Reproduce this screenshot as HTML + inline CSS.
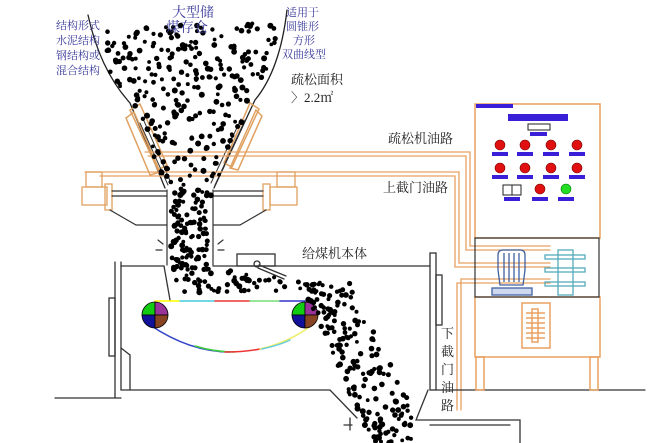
<!DOCTYPE html>
<html><head><meta charset="utf-8"><style>
html,body{margin:0;padding:0;background:#fff;width:660px;height:443px;overflow:hidden}
svg{display:block}
.t{font-family:"Liberation Serif","Noto Serif CJK SC",serif}
</style></head><body>
<svg id="s" width="660" height="443" viewBox="0 0 660 443" xmlns="http://www.w3.org/2000/svg">
<g fill="none" stroke-linecap="round">
<path d="M88,15 Q100,70 130,103 L165,188" stroke="#222" stroke-width="1.3"/>
<path d="M287,10 Q280,70 255,100 L214,188" stroke="#222" stroke-width="1.3"/>
<g stroke="#e0a060" stroke-width="1.5">
<path d="M130,110 L140,104 L167,165 L158,170 Z"/>
<path d="M126,118 L134,112 L160,172 L150,175 Z"/>
<path d="M250,103 L259,109 L232,167 L224,163 Z"/>
<path d="M256,110 L262,116 L238,170 L230,168 Z"/>
</g>
<g stroke="#333" stroke-width="1">
<path d="M140,123 L168,185 M144,121 L171,183"/>
<path d="M245,120 L215,185 M241,119 L211,183"/>
</g>
<g stroke="#e8a060" stroke-width="1.3">
<path d="M145,152 L470,152 L470,246 L550,246"/>
<path d="M148,156 L466,156 L466,250 L550,250"/>
<path d="M85,172 L459,172 L459,263 L550,263"/>
<path d="M100,176 L455,176 L455,267 L550,267"/>
<path d="M550,279 L461,279 L461,410"/>
<path d="M550,283 L457,283 L457,410"/>
</g>
<g stroke="#e0a060" stroke-width="1.3">
<rect x="86" y="172" width="16" height="15"/>
<rect x="82" y="187" width="25" height="18"/>
<rect x="105" y="184" width="7" height="26"/>
<rect x="277" y="172" width="18" height="15"/>
<rect x="270" y="187" width="27" height="18"/>
<rect x="263" y="184" width="7" height="26"/>
</g>
<g stroke="#333" stroke-width="1.2">
<path d="M112,191 L167,191 M112,196 L167,196"/>
<path d="M213,191 L263,191 M213,196 L263,196"/>
<path d="M110,210 L136,225 L167,225"/>
<path d="M266,210 L240,225 L213,225"/>
<path d="M167,190 L167,265 M213,190 L213,265"/>
<path d="M158,240 L163,244 M156,250 L162,250 M218,244 L223,240 M218,250 L224,250"/>
</g>
<g stroke="#333" stroke-width="1.3">
<path d="M213,266 L430,266"/>
<path d="M121,266 L164,266"/>
<path d="M164,266 L170,300"/>
<path d="M115,262 L115,398 M121,262 L121,390"/>
<rect x="109" y="298" width="6" height="58"/>
<path d="M121,348 L130,355 L130,390"/>
<path d="M121,390 L330,390 L357,418"/>
<path d="M55,398 L121,398"/>
<rect x="430" y="253" width="6" height="137"/>
<rect x="436" y="275" width="6" height="50"/>
<path d="M436,390 L645,390 M428,390 L416,420 L520,420 L520,443 M430,425 L510,425"/>
<path d="M350,418 L350,430 M344,425 L352,425"/>
<rect x="237" y="254" width="38" height="12"/>
<circle cx="257" cy="264" r="3"/>
<path d="M259,265 L286,276 M258,268 L284,279"/>
</g>
<path d="M155,301 L180,301" stroke="#ff0" stroke-width="1.5"/>
<path d="M180,301 L215,301" stroke="#4cd" stroke-width="1.5"/>
<path d="M215,301 L250,301" stroke="#e33" stroke-width="1.5"/>
<path d="M250,301 L280,301" stroke="#7d7" stroke-width="1.5"/>
<path d="M280,301 L305,301" stroke="#33c" stroke-width="1.5"/>
<path d="M150,325 Q190,352 230,352" stroke="#34c" stroke-width="1.5"/>
<path d="M195,346 Q215,352 235,352" stroke="#4c4" stroke-width="1.5"/>
<path d="M225,352 Q245,352 260,349" stroke="#e33" stroke-width="1.5"/>
<path d="M260,349 Q290,342 312,325" stroke="#ee6" stroke-width="1.5"/>
<path d="M262,349 Q280,345 290,340" stroke="#6cd" stroke-width="1.5"/>
</g>
<g stroke="#000" stroke-width="0.8">
<path d="M155,315 L155,302 A13,13 0 0 0 142,315 Z" fill="#1c1"/>
<path d="M155,315 L155,302 A13,13 0 0 1 168,315 Z" fill="#939"/>
<path d="M155,315 L142,315 A13,13 0 0 0 155,328 Z" fill="#119"/>
<path d="M155,315 L168,315 A13,13 0 0 1 155,328 Z" fill="#842"/>
<path d="M305,315 L305,302 A13,13 0 0 0 292,315 Z" fill="#1c1"/>
<path d="M305,315 L305,302 A13,13 0 0 1 318,315 Z" fill="#939"/>
<path d="M305,315 L292,315 A13,13 0 0 0 305,328 Z" fill="#119"/>
<path d="M305,315 L318,315 A13,13 0 0 1 305,328 Z" fill="#842"/>
</g>
<g fill="none" stroke="#e8a060" stroke-width="1.5">
<rect x="475" y="104" width="125" height="134"/>
<rect x="475" y="297" width="125" height="60"/>
<rect x="476" y="357" width="8" height="33"/>
<rect x="590" y="357" width="8" height="33"/>
<rect x="522" y="303" width="28" height="45"/>
<rect x="532" y="309" width="6" height="33"/>
<path d="M526,313 L545,313 M526,318 L545,318 M526,323 L545,323 M526,328 L545,328 M526,333 L545,333 M526,338 L545,338"/>
</g>
<rect x="475" y="238" width="124" height="59" fill="none" stroke="#333" stroke-width="1.2"/>
<g fill="#3a1fd8">
<rect x="476" y="104" width="37" height="4"/>
<rect x="508" y="114" width="60" height="7"/>
<rect x="530" y="132" width="17" height="4"/>
<rect x="492" y="152" width="16" height="4"/><rect x="517" y="152" width="16" height="4"/><rect x="543" y="152" width="16" height="4"/><rect x="569" y="152" width="16" height="4"/>
<rect x="492" y="175" width="16" height="4"/><rect x="517" y="175" width="16" height="4"/><rect x="543" y="175" width="16" height="4"/><rect x="569" y="175" width="16" height="4"/>
<rect x="504" y="197" width="16" height="4"/><rect x="532" y="197" width="16" height="4"/><rect x="558" y="197" width="16" height="4"/>
</g>
<rect x="528" y="124" width="22" height="6" fill="#fff" stroke="#222"/>
<rect x="503" y="185" width="18" height="10" fill="#fff" stroke="#222"/>
<path d="M512,185 L512,195" stroke="#222"/>
<g fill="#e01010" stroke="#700" stroke-width="0.6">
<circle cx="500" cy="145" r="5"/><circle cx="525" cy="145" r="5"/><circle cx="551" cy="145" r="5"/><circle cx="577" cy="145" r="5"/>
<circle cx="500" cy="168" r="5"/><circle cx="525" cy="168" r="5"/><circle cx="551" cy="168" r="5"/><circle cx="577" cy="168" r="5"/>
<circle cx="540" cy="189" r="5"/>
</g>
<circle cx="566" cy="189" r="5" fill="#2d2" stroke="#070" stroke-width="0.6"/>
<g fill="none" stroke="#4060a0" stroke-width="1.3">
<path d="M500,285 L498,270 L498,255 Q498,250 503,250 L520,250 Q525,250 525,255 L525,270 L523,285 Z"/>
<path d="M504,253 L504,282 M509,253 L509,282 M514,253 L514,282 M519,253 L519,282"/>
<rect x="492" y="288" width="40" height="7" fill="#cfd8ee"/>
</g>
<g fill="none" stroke="#5ab" stroke-width="1.3">
<rect x="558" y="250" width="15" height="45"/>
<rect x="545" y="255" width="40" height="4"/>
<rect x="545" y="268" width="40" height="4"/>
<rect x="545" y="282" width="40" height="4"/>
</g>
<g id="dots" fill="#000"></g>
<g class="t" fill="#3a3a9a" font-size="14">
<text x="172" y="17">大型储</text><text x="166" y="32">煤存仓</text>
</g>
<g class="t" fill="#3a3a9a" font-size="11">
<text x="56" y="29">结构形式</text><text x="56" y="44">水泥结构</text><text x="56" y="59">钢结构或</text><text x="56" y="74">混合结构</text>
<text x="286" y="16">适用于</text><text x="286" y="30">圆锥形</text><text x="293" y="44">方形</text><text x="282" y="58">双曲线型</text>
</g>
<g class="t" fill="#222" font-size="13">
<text x="291" y="84">疏松面积</text><text x="291" y="102">〉2.2㎡</text>
<text x="388" y="143">疏松机油路</text>
<text x="383" y="192">上截门油路</text>
<text x="302" y="258">给煤机本体</text>
<text x="441" y="338">下</text><text x="441" y="356">截</text><text x="441" y="374">门</text><text x="441" y="392">油</text><text x="441" y="410">路</text>
</g>
</svg>
<script>
(function(){
var a=987654321;function r(){a|=0;a=a+0x6D2B79F5|0;var t=Math.imul(a^a>>>15,1|a);t=t+Math.imul(t^t>>>7,61|t)^t;return((t^t>>>14)>>>0)/4294967296;}
function inP(x,y,p){var c=false;for(var i=0,j=p.length-1;i<p.length;j=i++){var A=p[i],B=p[j];if(((A[1]>y)!=(B[1]>y))&&(x<(B[0]-A[0])*(y-A[1])/(B[1]-A[1])+A[0]))c=!c;}return c;}
var regions=[
[[[100,28],[280,22],[268,70],[254,100],[214,188],[168,188],[130,103],[110,75]],270],
[[[170,188],[211,188],[211,270],[170,270]],110],
[[[172,262],[230,268],[290,278],[330,282],[330,300],[290,292],[230,292],[178,296]],65],
[[[305,280],[350,282],[378,340],[408,400],[418,443],[372,443],[352,400],[326,340],[305,300]],170]
];
var g=document.getElementById('dots'),h='';
regions.forEach(function(R){var p=R[0],n=R[1],mx=1e9,Mx=-1e9,my=1e9,My=-1e9;p.forEach(function(q){mx=Math.min(mx,q[0]);Mx=Math.max(Mx,q[0]);my=Math.min(my,q[1]);My=Math.max(My,q[1]);});
var k=0,t=0;while(k<n&&t<20000){t++;var x=mx+r()*(Mx-mx),y=my+r()*(My-my);if(inP(x,y,p)){k++;h+='<circle cx="'+x.toFixed(1)+'" cy="'+y.toFixed(1)+'" r="'+(1.9+r()*1.1).toFixed(1)+'"/>';}}});
g.innerHTML=h;
})();
</script>
</body></html>
